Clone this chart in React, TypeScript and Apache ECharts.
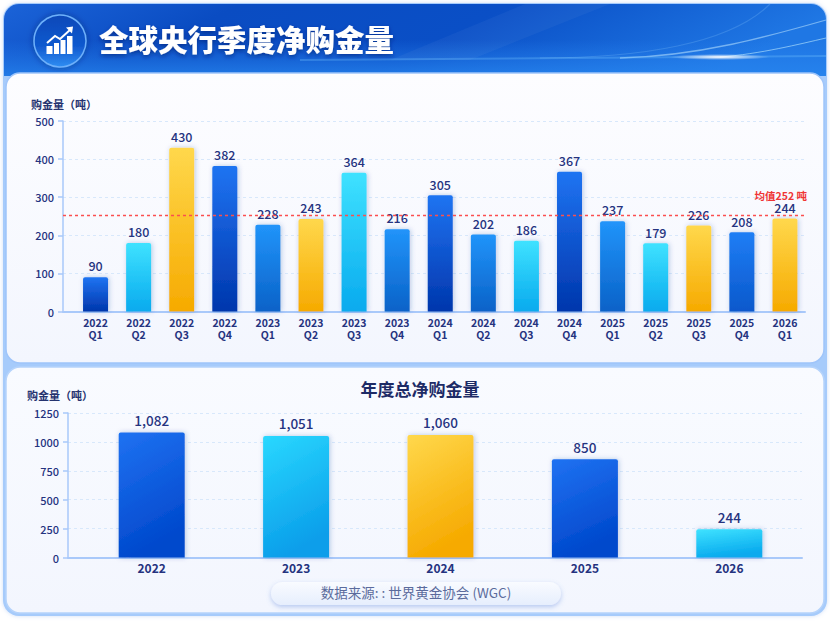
import React, { useEffect, useRef } from "react";
import * as echarts from "echarts";

const quarterLabels = ["2022\nQ1","2022\nQ2","2022\nQ3","2022\nQ4","2023\nQ1","2023\nQ2","2023\nQ3","2023\nQ4","2024\nQ1","2024\nQ2","2024\nQ3","2024\nQ4","2025\nQ1","2025\nQ2","2025\nQ3","2025\nQ4","2026\nQ1"];
const quarterValues = [90,180,430,382,228,243,364,216,305,202,186,367,237,179,226,208,244];
const averageValue = 252;
const yearLabels = ["2022","2023","2024","2025","2026"];
const yearValues = [1082,1051,1060,850,244];
const FONT = '"Noto Sans CJK SC", "Noto Sans", sans-serif';

const tones: Record<string, [string, string]> = {
  b: ["#1f7ef5", "#0a58cc"],
  d: ["#1f74f2", "#0036ac"],
  m: ["#2194fa", "#0a62c8"],
  c: ["#3fe2ff", "#08aaee"],
  g: ["#ffd84c", "#f6aa00"],
  y: ["#1f72f2", "#0048cc"],
  s: ["#2ad8ff", "#0a9eea"],
};
const quarterTones = ["d","c","g","d","m","g","c","m","d","m","c","d","m","c","g","b","g"];
const yearTones = ["y","s","g","y","c"];

const grad = (a: string, b: string, x2 = 0, y2 = 1) => new echarts.graphic.LinearGradient(0, 0, x2, y2, [{ offset: 0, color: a }, { offset: 1, color: b }]);
const barItem = (v: number, t: string, r: number, x2: number) => ({
  value: v,
  itemStyle: {
    color: grad(tones[t][0], tones[t][1], x2, 1),
    borderRadius: [r, r, 0, 0],
    shadowBlur: 5,
    shadowColor: "rgba(30,70,160,0.28)",
    shadowOffsetX: 1,
  },
});

const axisColor = "#a9c9fa";
const gridColor = "#d8e8fb";
const ink = "#25337f";
const red = "#fb4f4f";

function option() {
  const L1 = 63, T1 = 121, B1 = 311.5, R1 = 805;
  const L2 = 68, T2 = 413, B2 = 557.5, R2 = 802;
  const W = 830;
  const valueAxis = (gridIndex: number, max: number, interval: number, fs: number) => ({
    type: "value", gridIndex, min: 0, max, interval,
    axisLine: { show: true, lineStyle: { color: axisColor, width: 1.5 } },
    axisTick: { show: true, length: 5, lineStyle: { color: axisColor, width: 1.5 } },
    axisLabel: { color: ink, fontSize: fs, fontWeight: 500, fontFamily: FONT, margin: 9, formatter: (v: number) => String(v) },
    splitLine: { show: true, lineStyle: { color: gridColor, type: [3, 3], width: 1 } },
  });
  const baseAxis = (gridIndex: number) => ({
    type: "value", gridIndex, min: 0, max: 1,
    axisLine: { show: true, onZero: false, lineStyle: { color: axisColor, width: 2 } },
    axisTick: { show: false }, axisLabel: { show: false }, splitLine: { show: false },
  });
  const catAxis = (gridIndex: number, data: string[], fs: number, lh: number, margin: number) => ({
    type: "category", gridIndex, data,
    axisLine: { show: false }, axisTick: { show: false },
    axisLabel: { color: ink, fontSize: fs, fontWeight: 600, fontFamily: FONT, lineHeight: lh, margin, interval: 0 },
  });
  const hiddenY = (gridIndex: number, max: number) => ({
    type: "value", gridIndex, min: 0, max, show: false, splitLine: { show: false },
  });

  return {
    animation: false,
    backgroundColor: "#ffffff",
    title: [
      { text: "全球央行季度净购金量", left: 94, top: 18, textStyle: { color: "#ffffff", fontSize: 29.5, fontWeight: 900, fontFamily: FONT, textShadowColor: "rgba(0,30,110,0.6)", textShadowBlur: 4, textShadowOffsetY: 2 } },
      { text: "购金量（吨）", left: 26, top: 93, textStyle: { color: "#25336f", fontSize: 11, fontWeight: 700, fontFamily: FONT } },
      { text: "购金量（吨）", left: 22, top: 384, textStyle: { color: "#25336f", fontSize: 11, fontWeight: 700, fontFamily: FONT } },
      { text: "年度总净购金量", left: 415, textAlign: "center", top: 375, textStyle: { color: "#1d2b66", fontSize: 17, fontWeight: 700, fontFamily: FONT } },
      { text: "数据来源: : 世界黄金协会 (WGC)", left: 411, textAlign: "center", top: 580, textStyle: { color: "#5b6b9c", fontSize: 13.5, fontWeight: 400, fontFamily: FONT } },
    ],
    grid: [
      { left: L1, right: W - R1, top: T1, height: B1 - T1 },
      { left: 74, right: W - 806.5, top: T1, height: B1 - T1 },
      { left: L2, right: W - R2, top: T2, height: B2 - T2 },
      { left: 79.5, right: W - 801.5, top: T2, height: B2 - T2 },
    ],
    xAxis: [
      baseAxis(0),
      catAxis(1, quarterLabels, 10.5, 12, 5),
      baseAxis(2),
      catAxis(3, yearLabels, 12, 14, 3),
    ],
    yAxis: [
      valueAxis(0, 500, 100, 11),
      hiddenY(1, 500),
      valueAxis(2, 1250, 250, 11),
      hiddenY(3, 1250),
    ],
    series: [
      {
        type: "bar", xAxisIndex: 1, yAxisIndex: 1, barWidth: 25, z: 3,
        data: quarterValues.map((v, i) => barItem(v, quarterTones[i], 2, 0)),
        label: { show: true, position: "top", distance: 5, color: ink, fontSize: 12.5, fontWeight: 500, fontFamily: FONT },
      },
      {
        type: "line", xAxisIndex: 0, yAxisIndex: 0, z: 4, symbol: "none", silent: true, color: red,
        data: [[0, averageValue], [1, averageValue]],
        itemStyle: { color: red },
        lineStyle: { color: red, width: 1.6, type: [3, 3], opacity: 1 },
        endLabel: { show: true, formatter: `均值${averageValue} 吨`, color: "#f03535", fontSize: 10.5, fontWeight: 600, fontFamily: FONT, align: "right", verticalAlign: "middle", offset: [-6, -20] },
      },
      {
        type: "bar", xAxisIndex: 3, yAxisIndex: 3, barWidth: 66, z: 3,
        data: yearValues.map((v, i) => barItem(v, yearTones[i], 2, 0.3)),
        label: { show: true, position: "top", distance: 6, color: ink, fontSize: 13.5, fontWeight: 500, fontFamily: FONT, formatter: (p: any) => Number(p.value).toLocaleString("en-US") },
      },
    ],
    graphic: {
      elements: [
        { type: "rect", z: -10, shape: { x: 3, y: 3, width: 824, height: 613, r: 16 }, style: { fill: "#a6cbfb", shadowBlur: 4, shadowColor: "rgba(120,160,230,0.35)" } },
        { type: "rect", z: -9, shape: { x: 4, y: 4, width: 822, height: 72, r: [15, 15, 0, 0] }, style: { fill: new echarts.graphic.LinearGradient(0, 0, 1, 0.18, [{ offset: 0, color: "#1b63d8" }, { offset: 0.28, color: "#0a4cc2" }, { offset: 0.6, color: "#0a4fc6" }, { offset: 1, color: "#1f77e4" }]) } },
        { type: "rect", z: -9, shape: { x: 4, y: 40, width: 822, height: 36 }, style: { fill: new echarts.graphic.LinearGradient(0, 0, 0, 1, [{ offset: 0, color: "rgba(40,130,240,0)" }, { offset: 1, color: "rgba(40,135,240,0.75)" }]) } },
        { type: "polygon", z: -8, shape: { points: [[525, 4], [610, 4], [470, 60], [390, 60]] }, style: { fill: "rgba(255,255,255,0.04)" } },
        { type: "bezierCurve", z: -8, shape: { x1: 540, y1: 58, cpx1: 640, cpy1: 58, cpx2: 730, cpy2: 44, x2: 770, y2: 4 }, style: { stroke: "rgba(150,210,255,0.22)", lineWidth: 1.2, fill: "none" } },
        { type: "bezierCurve", z: -8, shape: { x1: 620, y1: 58, cpx1: 700, cpy1: 56, cpx2: 770, cpy2: 36, x2: 826, y2: 20 }, style: { stroke: "rgba(190,230,255,0.55)", lineWidth: 1.3, fill: "none" } },
        { type: "bezierCurve", z: -8, shape: { x1: 720, y1: 57, cpx1: 760, cpy1: 54, cpx2: 800, cpy2: 44, x2: 826, y2: 38 }, style: { stroke: "rgba(190,235,255,0.6)", lineWidth: 1, fill: "none" } },
        { type: "line", z: -8, shape: { x1: 300, y1: 60, x2: 826, y2: 56 }, style: { stroke: "rgba(120,200,255,0.3)", lineWidth: 2 } },
        { type: "ellipse", z: -7, shape: { cx: 720, cy: 57, rx: 50, ry: 3 }, style: { fill: new echarts.graphic.RadialGradient(0.5, 0.5, 0.5, [{ offset: 0, color: "rgba(255,255,255,1)" }, { offset: 1, color: "rgba(255,255,255,0)" }]) } },
        // icon
        { type: "circle", z: -6, shape: { cx: 60, cy: 41, r: 26 }, style: { fill: new echarts.graphic.LinearGradient(0, 0, 0, 1, [{ offset: 0, color: "#0b48b8" }, { offset: 0.6, color: "#1159cf" }, { offset: 1, color: "#2f8df2" }]), stroke: "#6db0fb", lineWidth: 1.5, shadowBlur: 6, shadowColor: "rgba(0,30,100,0.5)" } },
        { type: "rect", z: -5, shape: { x: 46.5, y: 46, width: 6, height: 8 }, style: { fill: "#fff" } },
        { type: "rect", z: -5, shape: { x: 54, y: 43, width: 5, height: 11 }, style: { fill: "#fff" } },
        { type: "rect", z: -5, shape: { x: 60.5, y: 40, width: 5, height: 14 }, style: { fill: "#fff" } },
        { type: "rect", z: -5, shape: { x: 67, y: 36, width: 5.5, height: 18 }, style: { fill: "#fff" } },
        { type: "polyline", z: -5, shape: { points: [[47, 43], [55, 36], [60, 39], [71, 29]] }, style: { stroke: "#fff", lineWidth: 2, fill: "none" } },
        { type: "polygon", z: -5, shape: { points: [[66, 27.5], [73, 26.5], [72, 33.5]] }, style: { fill: "#fff" } },
        // panels
        { type: "rect", z: -4, shape: { x: 6, y: 73, width: 818, height: 290, r: 14 }, style: { fill: grad("#fdfdff", "#f3f6fe"), stroke: "#9fc5fa", lineWidth: 1.5 } },
        { type: "rect", z: -4, shape: { x: 6, y: 367, width: 818, height: 246, r: 14 }, style: { fill: grad("#f9fbff", "#f3f6fe"), stroke: "#b5d3fb", lineWidth: 1.5 } },
        // source pill
        { type: "rect", z: -3, shape: { x: 271, y: 582, width: 290, height: 23, r: 11.5 }, style: { fill: grad("#f9fbff", "#e6eefd"), shadowBlur: 5, shadowOffsetY: 2, shadowColor: "rgba(90,130,220,0.4)" } },
      ],
    },
  };
}

export default function App() {
  const ref = useRef<HTMLDivElement>(null);
  useEffect(() => {
    const chart = echarts.init(ref.current!, undefined, { renderer: "svg" });
    chart.setOption(option() as any);
    return () => chart.dispose();
  }, []);
  return <div ref={ref} style={{ position: "fixed", left: 0, top: 0, width: 830, height: 623 }} />;
}
